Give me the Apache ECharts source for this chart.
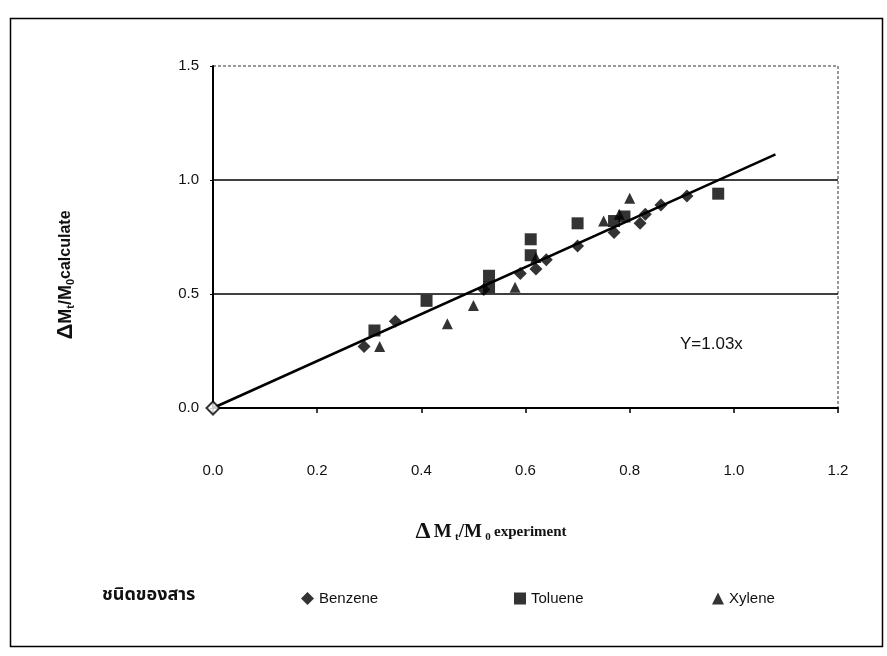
<!DOCTYPE html>
<html>
<head>
<meta charset="utf-8">
<script src="https://cdn.jsdelivr.net/npm/echarts@6/dist/echarts.min.js"></script>
<style>
  html, body { margin: 0; padding: 0; background: #fff; }
  #chart { width: 887px; height: 656px; }
</style>
</head>
<body>
<div id="chart"></div>
<script>
// Mass-uptake ratio: experiment (x) vs. calculated (y)
const benzene = [
  [0.00, 0.00], [0.29, 0.27], [0.35, 0.38], [0.52, 0.52], [0.59, 0.59],
  [0.62, 0.61], [0.64, 0.65], [0.70, 0.71], [0.77, 0.77], [0.82, 0.81],
  [0.83, 0.85], [0.86, 0.89], [0.91, 0.93]
];
const toluene = [
  [0.31, 0.34], [0.41, 0.47], [0.53, 0.53], [0.53, 0.58], [0.61, 0.67],
  [0.61, 0.74], [0.70, 0.81], [0.77, 0.82], [0.79, 0.84], [0.97, 0.94]
];
const xylene = [
  [0.32, 0.27], [0.45, 0.37], [0.50, 0.45], [0.58, 0.53], [0.62, 0.66],
  [0.75, 0.82], [0.78, 0.85], [0.80, 0.92]
];
const fitSlope = 1.03;
const fitXEnd = 1.08;
const gridLevels = [0.5, 1.0];
const xTicks = { min: 0, max: 1.2, step: 0.2 };
const yTicks = { min: 0, max: 1.5, step: 0.5 };
const legendTitle = 'ชนิดของสาร';

const fitLine = [[0, 0], [fitXEnd, +(fitSlope * fitXEnd).toFixed(4)]];

const chart = echarts.init(document.getElementById('chart'), null, { renderer: 'canvas' });

const sans = 'Liberation Sans, Arial, sans-serif';
const serif = 'Liberation Serif, Times New Roman, serif';
const legendText = { fontFamily: sans, fontSize: 15, color: '#111' };

chart.setOption({
  backgroundColor: '#fff',
  animation: false,
  grid: {
    left: 213, top: 66, width: 625, height: 342,
    show: true, borderColor: '#333', borderWidth: 1, borderType: [3, 2],
    backgroundColor: 'transparent'
  },
  legend: [
    { left: 296, top: 586, itemWidth: 13, itemHeight: 13, itemGap: 0,
      textStyle: legendText, data: [{ name: 'Benzene', icon: 'diamond' }] },
    { left: 509, top: 586, itemWidth: 12, itemHeight: 12, itemGap: 0,
      textStyle: legendText, data: [{ name: 'Toluene', icon: 'rect' }] },
    { left: 707, top: 586, itemWidth: 12, itemHeight: 12, itemGap: 0,
      textStyle: legendText, data: [{ name: 'Xylene', icon: 'triangle' }] }
  ],
  xAxis: {
    type: 'value', min: xTicks.min, max: xTicks.max, interval: xTicks.step,
    axisLine: { onZero: false, lineStyle: { color: '#000', width: 2 } },
    axisTick: { show: true, inside: false, length: 5, lineStyle: { color: '#000', width: 1.5 } },
    axisLabel: { margin: 55, color: '#111', fontFamily: sans, fontSize: 15,
      formatter: v => v.toFixed(1) },
    splitLine: { show: false }
  },
  yAxis: {
    type: 'value', min: yTicks.min, max: yTicks.max, interval: yTicks.step,
    axisLine: { onZero: false, lineStyle: { color: '#000', width: 2 } },
    axisTick: { show: true, inside: false, length: 3, lineStyle: { color: '#000', width: 1 } },
    axisLabel: { margin: 14, color: '#111', fontFamily: sans, fontSize: 15,
      formatter: v => v.toFixed(1) },
    splitLine: { show: false }
  },
  series: [
    {
      name: 'Y=1.03x', type: 'line', data: fitLine, symbol: 'none',
      lineStyle: { color: '#000', width: 2.5 }, z: 3, silent: true,
      markLine: {
        silent: true, symbol: 'none', label: { show: false },
        lineStyle: { color: '#000', width: 1.5, type: 'solid' },
        data: gridLevels.map(v => ({ yAxis: v }))
      }
    },
    {
      name: 'Benzene', type: 'scatter', symbol: 'diamond', symbolSize: 13,
      itemStyle: { color: '#000' }, z: 4,
      data: benzene.map(p => (p[0] === 0 && p[1] === 0)
        ? { value: p, itemStyle: { color: '#fff', borderColor: '#000', borderWidth: 2 } }
        : p)
    },
    {
      name: 'Toluene', type: 'scatter', symbol: 'rect', symbolSize: 12,
      itemStyle: { color: '#000' }, z: 4, data: toluene
    },
    {
      name: 'Xylene', type: 'scatter', symbol: 'triangle', symbolSize: 11,
      itemStyle: { color: '#000' }, z: 4, data: xylene
    }
  ],
  graphic: [
    { type: 'rect', left: 8, top: 16, shape: { width: 872, height: 628 },
      style: { fill: 'none', stroke: '#000', lineWidth: 1.5 }, silent: true, z: -1 },
    { type: 'text', x: 680, y: 336,
      style: { text: 'Y=' + fitSlope + 'x', font: '17px ' + sans, fill: '#111' } },
    { type: 'text', x: 66, y: 275, rotation: Math.PI / 2,
      style: {
        text: '{d|Δ}{m|M}{s|t}{m|/M}{s|0}{c|calculate}',
        align: 'center', verticalAlign: 'middle',
        rich: {
          d: { font: 'bold 22px ' + sans, fill: '#111' },
          m: { font: 'bold 18px ' + sans, fill: '#111' },
          s: { font: 'bold 11px ' + sans, fill: '#111', padding: [9, 0, 0, 0] },
          c: { font: 'bold 16px ' + sans, fill: '#111' }
        }
      } },
    { type: 'text', x: 491, y: 532,
      style: {
        text: '{d|Δ} {m|M} {s|t}{m|/M} {s|0} {c|experiment}',
        align: 'center', verticalAlign: 'middle',
        rich: {
          d: { font: 'bold 24px ' + serif, fill: '#111' },
          m: { font: 'bold 19px ' + serif, fill: '#111' },
          s: { font: 'bold 11px ' + serif, fill: '#111', padding: [10, 0, 0, 0] },
          c: { font: 'bold 15px ' + serif, fill: '#111' }
        }
      } },
    { type: 'text', x: 102, y: 596,
      style: { text: legendTitle, verticalAlign: 'middle',
        font: 'bold 18px "Noto Sans Thai", "Noto Sans", sans-serif', fill: '#111' } }
  ]
});
</script>
</body>
</html>
